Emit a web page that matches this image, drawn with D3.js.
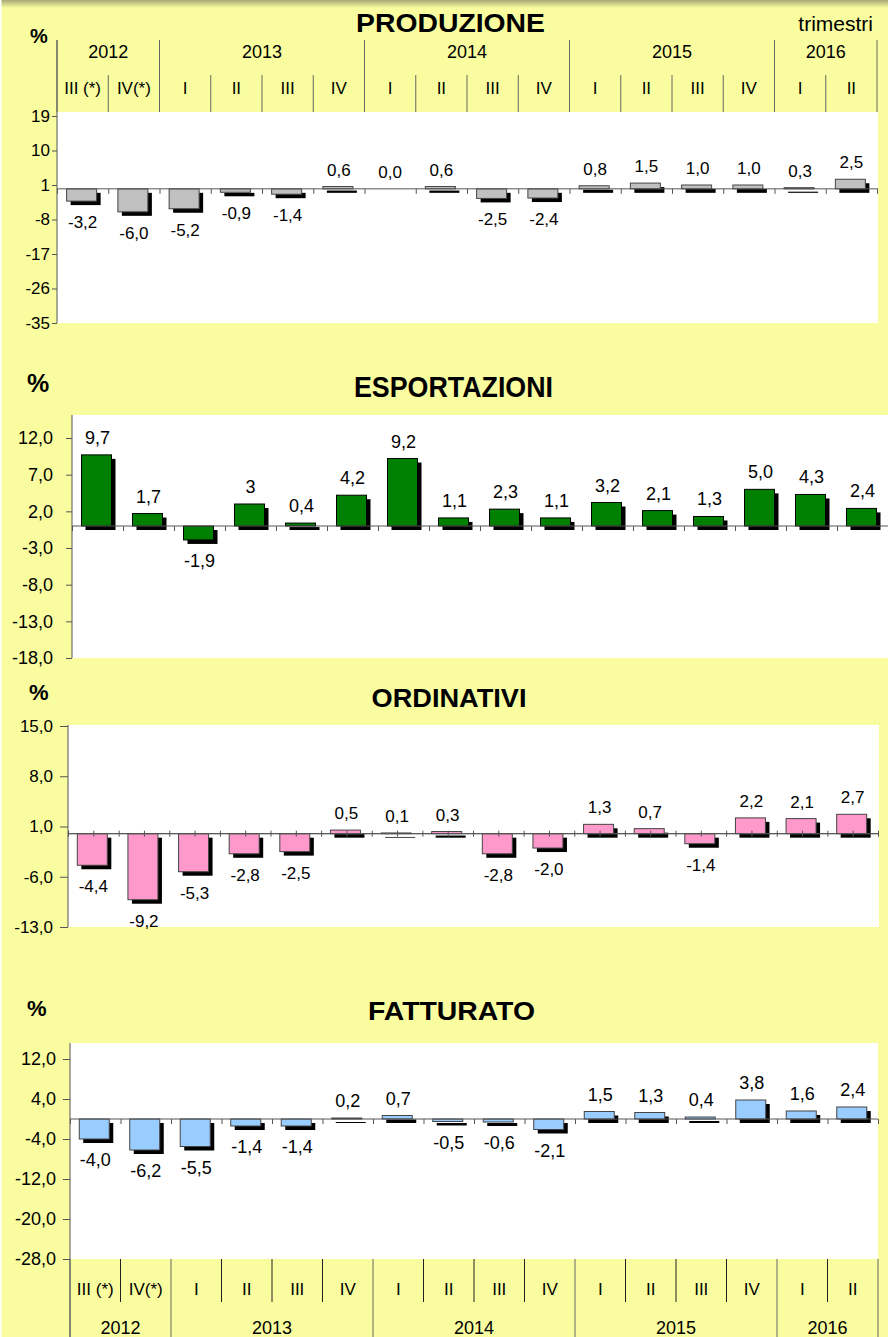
<!DOCTYPE html>
<html>
<head>
<meta charset="utf-8">
<script src="https://cdn.jsdelivr.net/npm/d3@7"></script>
<style>
html, body { margin: 0; padding: 0; background: #f9fd9f; }
svg { display: block; font-family: "Liberation Sans", Arial, sans-serif; }
</style>
</head>
<body>
<svg id="chart" width="888" height="1337"></svg>
<script>
// quarters and years on the x axis
const quarters = ['III (*)', 'IV(*)', 'I', 'II', 'III', 'IV', 'I', 'II', 'III', 'IV', 'I', 'II', 'III', 'IV', 'I', 'II']
const years = ['2012', '2013', '2014', '2015', '2016']
const quartersPerYear = [2, 4, 4, 4, 2]

// % changes
const produzione = [-3.2, -6.0, -5.2, -0.9, -1.4, 0.6, 0.0, 0.6, -2.5, -2.4, 0.8, 1.5, 1.0, 1.0, 0.3, 2.5]
const esportazioni = [9.7, 1.7, -1.9, 3, 0.4, 4.2, 9.2, 1.1, 2.3, 1.1, 3.2, 2.1, 1.3, 5.0, 4.3, 2.4]
const ordinativi = [-4.4, -9.2, -5.3, -2.8, -2.5, 0.5, 0.1, 0.3, -2.8, -2.0, 1.3, 0.7, -1.4, 2.2, 2.1, 2.7]
const fatturato = [-4.0, -6.2, -5.5, -1.4, -1.4, 0.2, 0.7, -0.5, -0.6, -2.1, 1.5, 1.3, 0.4, 3.8, 1.6, 2.4]

// y tick values
const produzioneTicks = [19, 10, 1, -8, -17, -26, -35]
const esportazioniTicks = [12, 7, 2, -3, -8, -13, -18]
const ordinativiTicks = [15, 8, 1, -6, -13]
const fatturatoTicks = [12, 4, -4, -12, -20, -28]

const it = d3.formatLocale({ decimal: ',', thousands: '.', grouping: [3], currency: ['', '€'], minus: '-' })
const fmt1 = it.format('.1f')
const fmt0 = it.format('d')

const esportazioniText = esportazioni.map(fmt1)
esportazioniText[3] = '3' // shown without decimal in the original

const svg = d3.select('#chart')

// soft shading on the top edge
const grad = svg.append('defs').append('linearGradient').attr('id', 'topShade').attr('x1', 0).attr('x2', 0).attr('y1', 0).attr('y2', 1)
grad.append('stop').attr('offset', 0).attr('stop-color', '#a8a878')
grad.append('stop').attr('offset', 1).attr('stop-color', '#f9fd9f')
svg.append('rect').attr('width', 888).attr('height', 8).attr('fill', 'url(#topShade)')
svg.append('rect').attr('width', 1.5).attr('height', 1337).attr('fill', '#fff')

const yearEdges = [0, ...d3.cumsum(quartersPerYear)]

function drawPanel (p) {
  const g = svg.append('g')
  const n = quarters.length
  const x = d3.scaleBand().domain(d3.range(n)).range([p.left, p.right])
  const edge = d3.scaleLinear().domain([0, n]).range([p.left, p.right])
  const y = d3.scaleLinear().domain(p.domain).range([p.bottom, p.topTick])

  g.append('rect')
    .attr('x', p.left).attr('y', p.plotTop)
    .attr('width', p.plotRight - p.left).attr('height', p.bottom - p.plotTop)
    .attr('fill', '#fff')

  g.append('text')
    .attr('x', p.titleX).attr('y', p.titleY)
    .attr('text-anchor', 'middle')
    .attr('font-weight', 'bold').attr('font-size', p.titleSize)
    .attr('textLength', p.titleLen).attr('lengthAdjust', 'spacingAndGlyphs')
    .text(p.title)

  g.append('text')
    .attr('x', p.pctX).attr('y', p.pctY)
    .attr('font-weight', 'bold').attr('font-size', p.pctSize)
    .text('%')

  if (p.note) {
    g.append('text')
      .attr('x', 873).attr('y', 31)
      .attr('text-anchor', 'end').attr('font-size', 21)
      .text(p.note)
  }

  // bars with a black drop shadow
  const bw = 30
  const bar = g.selectAll('g.bar').data(p.values).join('g').attr('class', 'bar')
  const bx = (d, i) => x(i) + x.bandwidth() / 2 - 1 - bw / 2
  const by = d => Math.min(y(d), y(0))
  const bh = d => Math.abs(y(d) - y(0))
  bar.append('rect')
    .attr('x', (d, i) => bx(d, i) + 4).attr('y', d => by(d) + 4)
    .attr('width', bw).attr('height', bh)
    .attr('fill', '#000')
  bar.append('rect')
    .attr('x', bx).attr('y', by)
    .attr('width', bw).attr('height', bh)
    .attr('fill', p.color).attr('stroke', p.stroke).attr('stroke-width', 1)

  // zero line with ticks
  const zero = g.append('g').attr('transform', `translate(0,${y(0)})`)
  zero.call(d3.axisBottom(edge).tickValues(p.zeroTicks).tickSize(p.zeroTickSize).tickSizeOuter(0).tickFormat(''))
  if (p.crossTicks) {
    zero.append('g').call(d3.axisTop(edge).tickValues(p.zeroTicks).tickSize(3).tickSizeOuter(0).tickFormat(''))
  }
  zero.selectAll('path.domain').attr('d', `M${p.left},0H${p.zeroRight}`)
  zero.selectAll('path, line').attr('stroke', '#555')

  // y axis
  const ya = g.append('g').attr('transform', `translate(${p.left},0)`)
    .call(d3.axisLeft(y).tickValues(p.ticks).tickSize(p.tickLen).tickSizeOuter(0)
      .tickPadding(p.tickPad).tickFormat(p.tickFormat))
  ya.select('.domain').remove()
  ya.selectAll('line').attr('stroke', '#555')
  ya.selectAll('text').attr('font-size', p.tickSize).attr('fill', '#000')
  g.append('line')
    .attr('x1', p.left).attr('x2', p.left)
    .attr('y1', p.axisTop).attr('y2', p.axisBottom)
    .attr('stroke', '#555')

  // value labels
  g.selectAll('text.val').data(p.values).join('text').attr('class', 'val')
    .attr('x', (d, i) => x(i) + x.bandwidth() / 2)
    .attr('y', d => d >= 0 ? y(d) - 11 : y(d) + 27)
    .attr('text-anchor', 'middle')
    .attr('font-size', p.labelSize)
    .text((d, i) => p.labels[i])

  // quarters / years band (header or footer)
  if (p.band) {
    const b = p.band
    const qEdges = d3.range(n + 1).filter(i => !yearEdges.includes(i))
    g.selectAll('line.q').data(qEdges).join('line').attr('class', 'q')
      .attr('x1', edge).attr('x2', edge)
      .attr('y1', b.qTop).attr('y2', b.qBottom)
      .attr('stroke', b.qStroke)
    g.selectAll('line.y').data(yearEdges).join('line').attr('class', 'y')
      .attr('x1', edge).attr('x2', edge)
      .attr('y1', b.yTop).attr('y2', b.yBottom)
      .attr('stroke', '#666')
    g.selectAll('text.q').data(quarters).join('text').attr('class', 'q')
      .attr('x', (d, i) => x(i) + x.bandwidth() / 2)
      .attr('y', b.qText)
      .attr('text-anchor', 'middle').attr('font-size', 17)
      .text(d => d)
    g.selectAll('text.y').data(years).join('text').attr('class', 'y')
      .attr('x', (d, i) => (edge(yearEdges[i]) + edge(yearEdges[i + 1])) / 2)
      .attr('y', b.yText)
      .attr('text-anchor', 'middle').attr('font-size', 18)
      .text(d => d)
  }
  return g
}

drawPanel({
  values: produzione, labels: produzione.map(fmt1),
  ticks: produzioneTicks, tickFormat: fmt0,
  title: 'PRODUZIONE', titleX: 450.5, titleY: 32, titleSize: 26, titleLen: 189,
  pctX: 30, pctY: 43, pctSize: 20, note: 'trimestri',
  left: 57, right: 877, plotRight: 878, plotTop: 112, bottom: 323, topTick: 116,
  domain: [-35, 19], axisTop: 40, axisBottom: 323,
  tickLen: 5, tickPad: 2, tickSize: 17, labelSize: 17,
  zeroTicks: d3.range(17), zeroTickSize: 5, zeroRight: 878,
  color: '#c0c0c0', stroke: '#444',
  band: { qTop: 75, qBottom: 112, yTop: 40, yBottom: 112, qText: 94, yText: 58, qStroke: '#666' }
})

drawPanel({
  values: esportazioni, labels: esportazioniText,
  ticks: esportazioniTicks, tickFormat: fmt1,
  title: 'ESPORTAZIONI', titleX: 453.5, titleY: 397, titleSize: 30, titleLen: 199,
  pctX: 27, pctY: 392, pctSize: 25,
  left: 72, right: 888, plotRight: 888, plotTop: 415, bottom: 658, topTick: 416,
  domain: [-18, 15], axisTop: 415, axisBottom: 658,
  tickLen: 6, tickPad: 13, tickSize: 18, labelSize: 18,
  zeroTicks: d3.range(17), zeroTickSize: 5, zeroRight: 888,
  color: '#008000', stroke: '#000'
})

drawPanel({
  values: ordinativi, labels: ordinativi.map(fmt1),
  ticks: ordinativiTicks, tickFormat: fmt1,
  title: 'ORDINATIVI', titleX: 449, titleY: 707, titleSize: 25, titleLen: 155,
  pctX: 29, pctY: 700, pctSize: 22,
  left: 68, right: 878, plotRight: 879, plotTop: 725, bottom: 927, topTick: 726,
  domain: [-13, 15], axisTop: 725, axisBottom: 927,
  tickLen: 8, tickPad: 7, tickSize: 17, labelSize: 17,
  zeroTicks: d3.range(0, 16.5, 0.5), zeroTickSize: 3, crossTicks: true, zeroRight: 879,
  color: '#ff99cc', stroke: '#444'
})

drawPanel({
  values: fatturato, labels: fatturato.map(fmt1),
  ticks: fatturatoTicks, tickFormat: fmt1,
  title: 'FATTURATO', titleX: 451.5, titleY: 1020, titleSize: 25, titleLen: 167,
  pctX: 27, pctY: 1016, pctSize: 22,
  left: 70, right: 878, plotRight: 878, plotTop: 1043, bottom: 1259, topTick: 1044,
  domain: [-28, 15], axisTop: 1043, axisBottom: 1337,
  tickLen: 7, tickPad: 7, tickSize: 18, labelSize: 18,
  zeroTicks: d3.range(17), zeroTickSize: 5, zeroRight: 878,
  color: '#99ccff', stroke: '#444',
  band: { qTop: 1259, qBottom: 1302, yTop: 1259, yBottom: 1337, qText: 1295, yText: 1334, qStroke: '#222' }
})
</script>
</body>
</html>
